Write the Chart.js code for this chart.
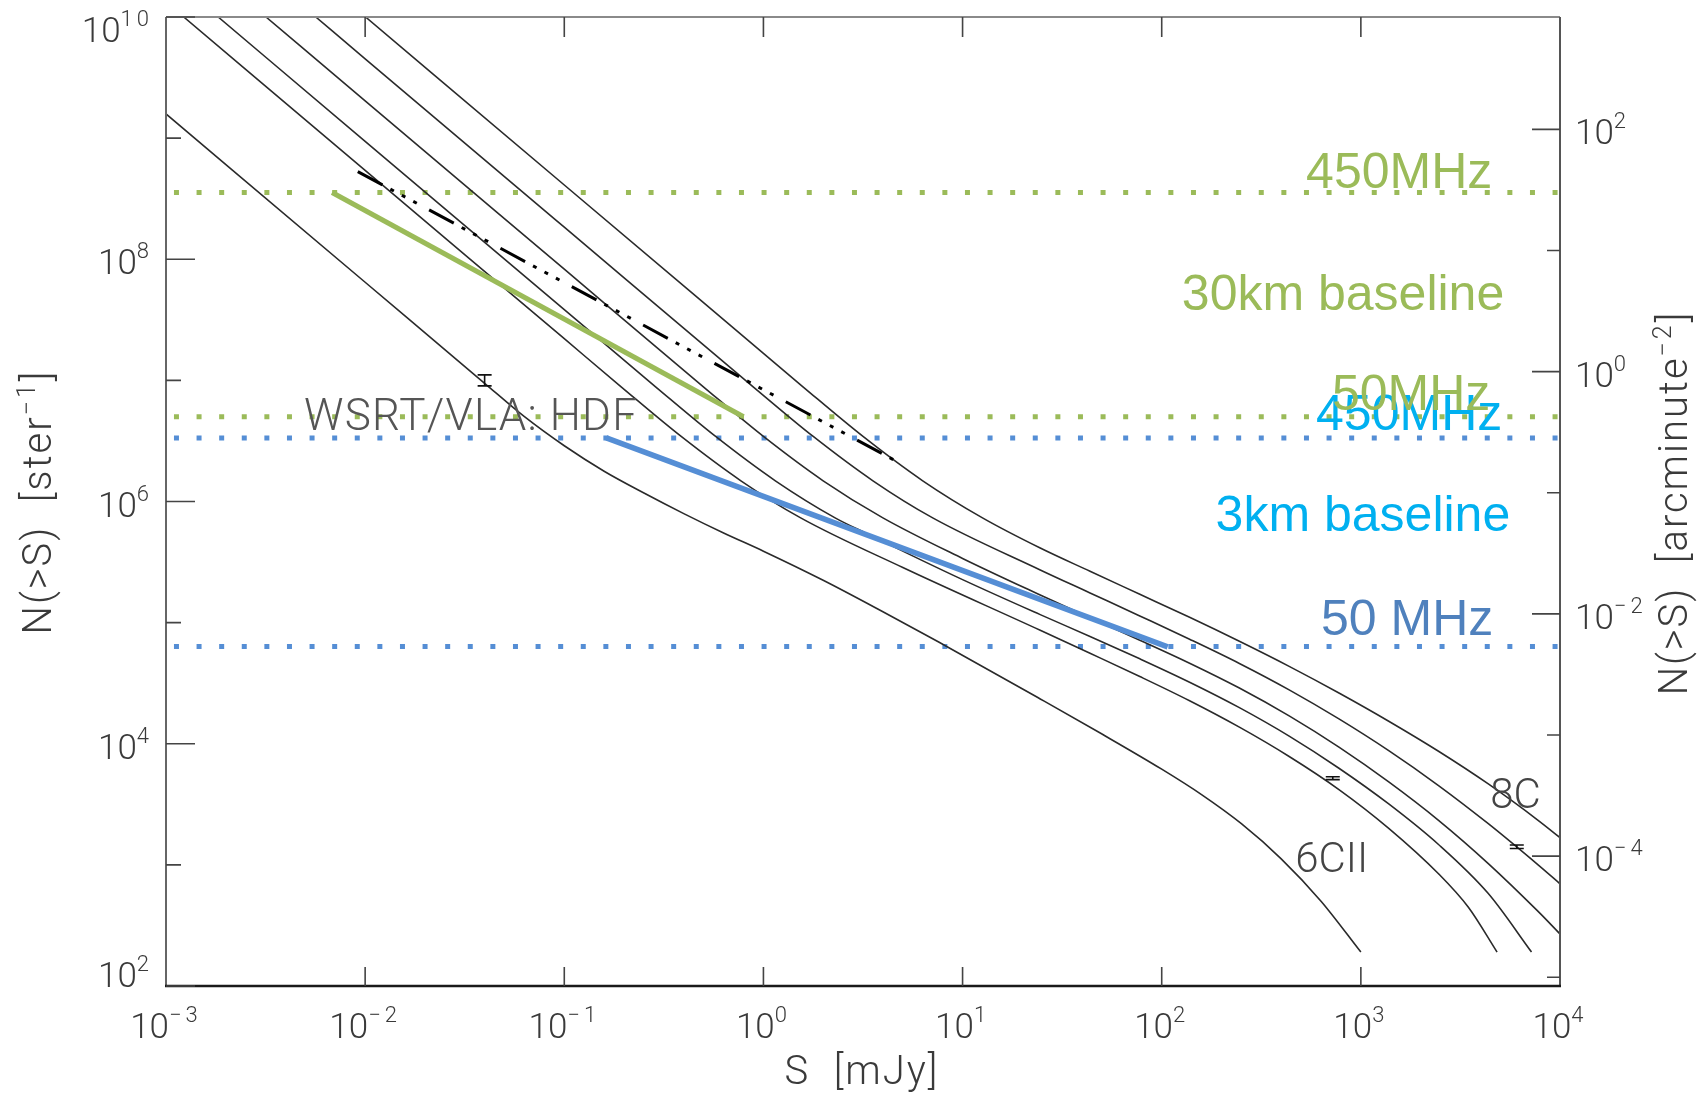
<!DOCTYPE html>
<html>
<head>
<meta charset="utf-8">
<script src="https://cdn.jsdelivr.net/npm/chart.js@4.4.0/dist/chart.umd.min.js"></script>
<style>
  html, body { margin: 0; padding: 0; background: #fff; }
  #wrap { width: 1707px; height: 1095px; }
</style>
</head>
<body>
<div id="wrap"><canvas id="c" width="1707" height="1095"></canvas></div>
<script>
// source counts, as log10(S / mJy) and log10(N(>S) / sr)
const count6CII_logS = [-3, -2, -1.4, -1.2, -1.0, -0.8, -0.6, -0.4, -0.2, 0, 0.3, 0.6, 0.88, 1.39, 1.7, 2.0, 2.2, 2.4, 2.6, 2.8, 3.0];
const count6CII_logN = [9.20, 7.81, 6.976, 6.70, 6.46, 6.25, 6.07, 5.90, 5.74, 5.59, 5.35, 5.09, 4.84, 4.37, 4.08, 3.79, 3.58, 3.34, 3.05, 2.70, 2.28];

const countB_logS = [-2.911, -2, -1, -0.713, -0.413, -0.113, 0.187, 0.7, 1.39, 1.64, 1.89, 2.14, 2.39, 2.64, 2.89, 3.14, 3.39, 3.54, 3.684];
const countB_logN = [10.0, 8.733, 7.344, 6.945, 6.537, 6.171, 5.865, 5.455, 4.937, 4.747, 4.555, 4.355, 4.137, 3.895, 3.622, 3.302, 2.927, 2.65, 2.28];

const countC_logS = [-2.738, -2, -1, -0.54, -0.24, 0.06, 0.36, 0.519, 1.0, 1.39, 1.64, 1.89, 2.14, 2.39, 2.64, 2.89, 3.14, 3.39, 3.64, 3.857];
const countC_logN = [10.0, 8.974, 7.584, 6.945, 6.537, 6.171, 5.865, 5.735, 5.355, 5.066, 4.886, 4.701, 4.508, 4.298, 4.063, 3.798, 3.503, 3.168, 2.763, 2.28];

const countD_logS = [-2.498, -2, -1, -0.3, 0, 0.3, 0.6, 1.0, 1.39, 1.64, 1.89, 2.14, 2.39, 2.64, 2.89, 3.14, 3.39, 3.64, 3.89, 4.0];
const countD_logN = [10.0, 9.308, 7.918, 6.945, 6.537, 6.171, 5.865, 5.53, 5.228, 5.04, 4.855, 4.665, 4.46, 4.23, 3.972, 3.685, 3.368, 3.011, 2.616, 2.43];

const countE_logS = [-2.248, -2, -1, -0.05, 0.25, 0.55, 0.85, 1.39, 1.64, 1.89, 2.14, 2.39, 2.64, 2.89, 3.14, 3.39, 3.64, 3.89, 4.0];
const countE_logN = [10.0, 9.655, 8.265, 6.945, 6.537, 6.171, 5.865, 5.435, 5.245, 5.055, 4.863, 4.663, 4.445, 4.205, 3.943, 3.655, 3.340, 3.000, 2.844];

const count8C_logS = [-1.998, -1, 0, 0.2, 0.5, 0.8, 1.1, 1.39, 1.64, 1.89, 2.14, 2.39, 2.64, 2.89, 3.14, 3.39, 3.64, 3.89, 4.0];
const count8C_logN = [10.0, 8.613, 7.223, 6.945, 6.537, 6.171, 5.865, 5.616, 5.424, 5.234, 5.044, 4.846, 4.639, 4.419, 4.186, 3.938, 3.668, 3.368, 3.225];

// dash-dot reference line and the two survey lines (end points)
const dashDot_logS = [-2.037, 0.670];
const dashDot_logN = [8.724, 6.33];
const green30km_logS = [-2.166, -0.100];
const green30km_logN = [8.551, 6.70];
const blue3km_logS = [-0.789, 2.03];
const blue3km_logN = [6.525, 4.80];

// horizontal dotted limits, log10(N / sr)
const limitGreen_logN = [8.551, 6.70];
const limitBlue_logN = [6.525, 4.802];
const limitStart_logS = -2.96;

// small error bars: log10 S, low and high log10 N
const err_logS = [-1.40, 2.859, 3.783];
const err_logLo = [6.955, 3.704, 3.135];
const err_logHi = [7.045, 3.728, 3.164];

// tick exponents
const xTickExp = [-3, -2, -1, 0, 1, 2, 3, 4];
const yTickExp = [10, 9, 8, 7, 6, 5, 4, 3, 2];
const y2TickExp = [2, 1, 0, -1, -2, -3, -4, -5];

const ARCMIN2_PER_SR = 1.1818e7;

const GREEN = '#9bbb59', BLUE = '#558ed5', CYAN = '#00b0f0', BLUE_TXT = '#4f81bd';
const INK = '#3a3a3a';
const THIN = 'Roboto';

// annotations: [text, log S, log N, align, colour, font, letter spacing]
const notes = [
  ['450MHz', 3.660, 8.590, 'right', GREEN, '50px "Liberation Sans"', '0px'],
  ['30km baseline', 3.720, 7.582, 'right', GREEN, '50px "Liberation Sans"', '0px'],
  ['450MHz', 3.710, 6.591, 'right', CYAN, '50px "Liberation Sans"', '0px'],
  ['50MHz', 3.650, 6.756, 'right', GREEN, '50px "Liberation Sans"', '0px'],
  ['3km baseline', 3.750, 5.757, 'right', CYAN, '50px "Liberation Sans"', '0px'],
  ['50 MHz', 3.665, 4.898, 'right', BLUE_TXT, '50px "Liberation Sans"', '0px'],
  ['WSRT/VLA: HDF', -2.307, 6.591, 'left', '#555', '300 44px ' + THIN, '1.2px'],
  ['8C', 3.650, 3.470, 'left', '#444', '300 42px ' + THIN, '0px'],
  ['6CII', 2.670, 2.941, 'left', '#444', '300 42px ' + THIN, '0px'],
];

function pts(ls, ln) {
  return ls.map((v, i) => ({ x: 10 ** v, y: 10 ** ln[i] }));
}

function drawRich(ctx, parts, x, y, align, f) {
  const setF = (s) => {
    ctx.font = s ? f.sup : f.base;
    ctx.letterSpacing = s ? f.supSp : f.baseSp;
  };
  let w = 0;
  for (const [t, s] of parts) { setF(s); w += ctx.measureText(t).width; }
  let cx = align === 'right' ? x - w : align === 'center' ? x - w / 2 : x;
  ctx.textAlign = 'left';
  ctx.textBaseline = 'alphabetic';
  for (const [t, s] of parts) {
    setF(s);
    ctx.fillText(t, cx, s ? y - f.rise : y);
    cx += ctx.measureText(t).width;
  }
  ctx.letterSpacing = '0px';
}

const tickFont = { base: '300 35px ' + THIN, sup: '300 22px ' + THIN, rise: 16, baseSp: '0px', supSp: '4px' };
const titleFont = { base: '300 40px ' + THIN, sup: '300 25px ' + THIN, rise: 16, baseSp: '2px', supSp: '3px' };

function exp(k) { return String(k).replace('-', '\u2212'); }

const framePlugin = {
  id: 'frame',
  afterDatasetsDraw(chart) {
    const { ctx, chartArea: a, scales: { x, y, y2 } } = chart;
    ctx.save();

    // annotations
    for (const [t, ls, ln, al, col, font, sp] of notes) {
      ctx.font = font;
      ctx.letterSpacing = sp;
      ctx.fillStyle = col;
      ctx.textAlign = al;
      ctx.textBaseline = 'alphabetic';
      ctx.fillText(t, x.getPixelForValue(10 ** ls), y.getPixelForValue(10 ** ln));
    }
    ctx.letterSpacing = '0px';

    // error bars
    ctx.strokeStyle = '#111';
    ctx.lineWidth = 1.6;
    err_logS.forEach((s, i) => {
      const px = x.getPixelForValue(10 ** s);
      const lo = y.getPixelForValue(10 ** err_logLo[i]);
      const hi = y.getPixelForValue(10 ** err_logHi[i]);
      ctx.beginPath();
      ctx.moveTo(px, lo); ctx.lineTo(px, hi);
      ctx.moveTo(px - 7, lo); ctx.lineTo(px + 7, lo);
      ctx.moveTo(px - 7, hi); ctx.lineTo(px + 7, hi);
      ctx.stroke();
    });

    // frame
    ctx.lineWidth = 2;
    ctx.strokeStyle = '#8a8a8a';
    ctx.beginPath(); ctx.moveTo(a.left, a.top); ctx.lineTo(a.right, a.top); ctx.stroke();
    ctx.strokeStyle = '#666';
    ctx.beginPath(); ctx.moveTo(a.left, a.top); ctx.lineTo(a.left, a.bottom); ctx.stroke();
    ctx.strokeStyle = '#555';
    ctx.beginPath(); ctx.moveTo(a.right, a.top); ctx.lineTo(a.right, a.bottom); ctx.stroke();
    ctx.strokeStyle = '#1a1a1a';
    ctx.lineWidth = 2.4;
    ctx.beginPath(); ctx.moveTo(a.left - 1, a.bottom); ctx.lineTo(a.right + 1, a.bottom); ctx.stroke();

    // ticks
    ctx.lineWidth = 1.6;
    ctx.strokeStyle = '#444';
    ctx.beginPath();
    for (const k of xTickExp) {
      const px = x.getPixelForValue(10 ** k);
      if (k === xTickExp[0] || k === xTickExp[xTickExp.length - 1]) continue;
      ctx.moveTo(px, a.top); ctx.lineTo(px, a.top + 20);
      ctx.moveTo(px, a.bottom); ctx.lineTo(px, a.bottom - 19);
    }
    for (const k of yTickExp) {
      const py = y.getPixelForValue(10 ** k);
      ctx.moveTo(a.left, py); ctx.lineTo(a.left + (k % 2 === 0 ? 29 : 15), py);
    }
    for (const k of y2TickExp) {
      const py = y2.getPixelForValue(10 ** k);
      ctx.moveTo(a.right, py); ctx.lineTo(a.right - (k % 2 === 0 ? 28 : 13), py);
    }
    ctx.stroke();

    // tick labels
    ctx.fillStyle = INK;
    for (const k of xTickExp) {
      drawRich(ctx, [['10', false], [exp(k), true]], x.getPixelForValue(10 ** k), a.bottom + 52, 'center', tickFont);
    }
    for (const k of yTickExp) {
      if (k % 2) continue;
      const py = y.getPixelForValue(10 ** k);
      const off = k === 10 ? 25 : k === 2 ? 1 : 15;
      drawRich(ctx, [['10', false], [exp(k), true]], a.left - 13, py + off, 'right', tickFont);
    }
    for (const k of y2TickExp) {
      if (k % 2) continue;
      const py = y2.getPixelForValue(10 ** k);
      drawRich(ctx, [['10', false], [exp(k), true]], a.right + 15, py + 15, 'left', tickFont);
    }

    // axis titles
    drawRich(ctx, [['S  [mJy]', false]], 862, 1084, 'center', titleFont);
    ctx.save();
    ctx.translate(51, 502);
    ctx.rotate(-Math.PI / 2);
    drawRich(ctx, [['N(>S)  [ster', false], ['\u22121', true], [']', false]], 0, 0, 'center', titleFont);
    ctx.restore();
    ctx.save();
    ctx.translate(1687, 503);
    ctx.rotate(-Math.PI / 2);
    drawRich(ctx, [['N(>S)  [arcminute', false], ['\u22122', true], [']', false]], 0, 0, 'center', titleFont);
    ctx.restore();

    ctx.restore();
  }
};

const curveSet = [
  [count6CII_logS, count6CII_logN],
  [countB_logS, countB_logN],
  [countC_logS, countC_logN],
  [countD_logS, countD_logN],
  [countE_logS, countE_logN],
  [count8C_logS, count8C_logN],
];

const datasets = [];
curveSet.forEach(([s, n]) => datasets.push({
  data: pts(s, n), borderColor: '#2a2a2a', borderWidth: 1.6,
  cubicInterpolationMode: 'monotone', order: 3,
}));
limitGreen_logN.forEach(n => datasets.push({
  data: pts([limitStart_logS, 4], [n, n]), borderColor: GREEN, borderWidth: 5,
  borderDash: [5, 17.6], borderCapStyle: 'butt', order: 4,
}));
limitBlue_logN.forEach(n => datasets.push({
  data: pts([limitStart_logS, 4], [n, n]), borderColor: BLUE, borderWidth: 5,
  borderDash: [5, 17.6], borderCapStyle: 'butt', order: 4,
}));
datasets.push({
  data: pts(dashDot_logS, dashDot_logN), borderColor: '#000', borderWidth: 3,
  borderDash: [28, 9, 4, 9, 4, 9, 4, 14], borderCapStyle: 'butt', order: 2,
});
datasets.push({
  data: pts(green30km_logS, green30km_logN), borderColor: GREEN, borderWidth: 5,
  borderCapStyle: 'butt', order: 1,
});
datasets.push({
  data: pts(blue3km_logS, blue3km_logN), borderColor: BLUE, borderWidth: 5.5,
  borderCapStyle: 'butt', order: 1,
});

new Chart(document.getElementById('c'), {
  type: 'line',
  data: { datasets },
  options: {
    responsive: false,
    animation: false,
    devicePixelRatio: 1,
    layout: { padding: { left: 166, top: 17, right: 147, bottom: 109 } },
    elements: { point: { radius: 0 }, line: { fill: false } },
    plugins: { legend: { display: false }, tooltip: { enabled: false } },
    scales: {
      x: { type: 'logarithmic', min: 1e-3, max: 1e4, display: false },
      y: { type: 'logarithmic', min: 1e2, max: 1e10, display: false },
      y2: { type: 'logarithmic', position: 'right', min: 1e2 / ARCMIN2_PER_SR, max: 1e10 / ARCMIN2_PER_SR, display: false },
    },
  },
  plugins: [framePlugin],
});
</script>
</body>
</html>
